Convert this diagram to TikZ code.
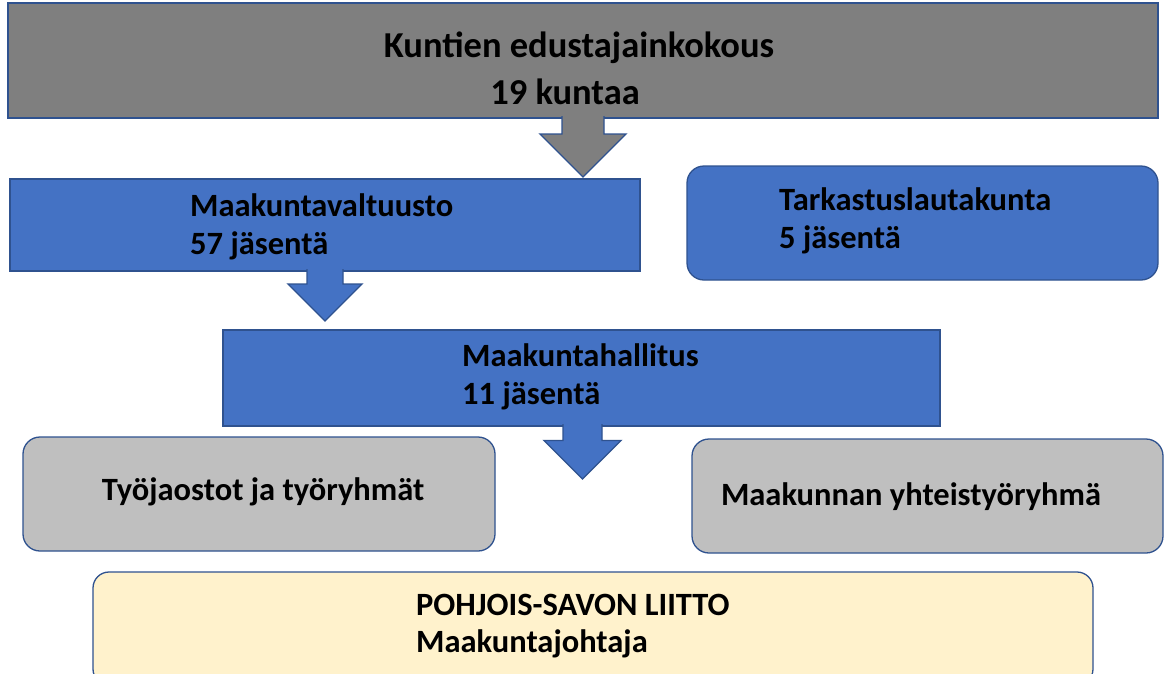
\documentclass[tikz,border=0pt]{standalone}
\usepackage{fontspec}
\setmainfont{Carlito}
\usetikzlibrary{positioning,calc}
\definecolor{rim}{HTML}{2F528F}
\definecolor{topgray}{HTML}{7F7F7F}
\definecolor{orgblue}{HTML}{4472C4}
\definecolor{lightgray}{HTML}{BFBFBF}
\definecolor{paleyellow}{HTML}{FFF2CC}
% block arrow pointing down: style, x, y top, y tip, shaft half, head half
\newcommand{\blockarrow}[6]{%
  \draw[#1] (#2-#5,#3) -- (#2-#5,#4-#6) -- (#2-#6,#4-#6) -- (#2,#4)
    -- (#2+#6,#4-#6) -- (#2+#5,#4-#6) -- (#2+#5,#3);}

\begin{document}
\begin{tikzpicture}[x=1pt,y=-1pt,
  box/.style={draw=rim,line width=1.3pt,inner sep=0pt},
  topbox/.style={box,fill=topgray},
  bluebox/.style={box,fill=orgblue},
  greybox/.style={box,fill=lightgray,rounded corners=17pt},
  yellowbox/.style={box,fill=paleyellow,rounded corners=16pt},
  txt/.style={font=\bfseries\fontsize{32.5}{37.5}\selectfont,inner sep=0pt},
  bigtxt/.style={font=\bfseries\fontsize{36.5}{47}\selectfont,inner sep=0pt},
  grayarrow/.style={fill=topgray,draw=rim,line width=1.3pt,line join=miter},
  bluearrow/.style={fill=orgblue,draw=rim,line width=1.3pt,line join=miter}]
\clip (0,0) rectangle (1166,673);
\fill[white] (0,0) rectangle (1166,673);

\node[topbox,minimum width=1150pt,minimum height=115pt] (kokous) at (583,60.5) {};
\node[bluebox,minimum width=630pt,minimum height=92pt] (valtuusto) at (325,225) {};
\node[bluebox,rounded corners=17pt,minimum width=471pt,minimum height=114pt] (tarkastus) at (922.5,223) {};
\node[bluebox,minimum width=717pt,minimum height=96pt] (hallitus) at (581.5,378) {};
\node[greybox,minimum width=472pt,minimum height=114pt] (jaostot) at (259,494) {};
\node[greybox,minimum width=471pt,minimum height=114pt] (yhteistyo) at (927.5,496) {};
\node[yellowbox,minimum width=1000pt,minimum height=113pt] (liitto) at (593,628.5) {};

\blockarrow{grayarrow}{583}{116}{177}{21}{43}
\blockarrow{bluearrow}{325}{269}{321}{18}{37}
\blockarrow{bluearrow}{582.5}{424}{479}{19.5}{38.5}

\node[bigtxt,align=center] (kokousT) at (579,68) {Kuntien edustajainkokous\\19 kuntaa\hspace*{28pt}};
\node[txt,align=left,anchor=west] (valtuustoT) at (190,227) {Maakuntavaltuusto\\57 jäsentä};
\node[txt,align=left,anchor=west] (tarkastusT) at (779,221) {Tarkastuslautakunta\\5 jäsentä};
\node[txt,align=left,anchor=west] (hallitusT) at (462,377) {Maakuntahallitus\\11 jäsentä};
\node[txt] (jaostotT) at (263,492) {Työjaostot ja työryhmät};
\node[txt] (yhteistyoT) at (911,497) {Maakunnan yhteistyöryhmä};
\node[txt,align=left,anchor=west] (liittoT) at (416,626) {POHJOIS-SAVON LIITTO\\Maakuntajohtaja};
\end{tikzpicture}
\end{document}
